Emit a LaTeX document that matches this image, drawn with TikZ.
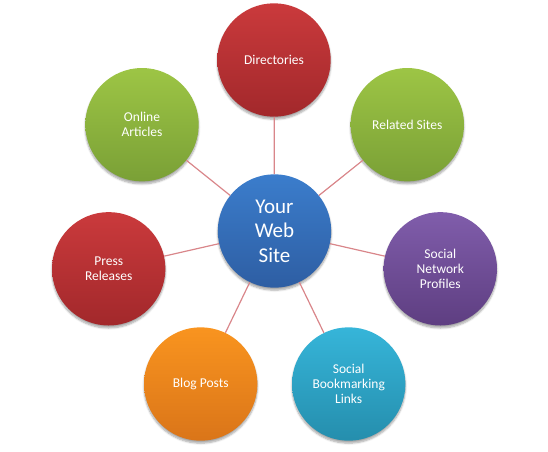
\documentclass[tikz,border=0pt]{standalone}
\usepackage{fontspec}
\setmainfont{Carlito}
\usetikzlibrary{shadows.blur}
\definecolor{redtop}{HTML}{CA3A3C}
\definecolor{redbot}{HTML}{A2282B}
\definecolor{greentop}{HTML}{9DC545}
\definecolor{greenbot}{HTML}{7AA036}
\definecolor{bluetop}{HTML}{3B7DCC}
\definecolor{bluebot}{HTML}{2E5EA3}
\definecolor{purpletop}{HTML}{805DAB}
\definecolor{purplebot}{HTML}{5E3E81}
\definecolor{orangetop}{HTML}{F9941F}
\definecolor{orangebot}{HTML}{DA7519}
\definecolor{tealtop}{HTML}{36B5D9}
\definecolor{tealbot}{HTML}{258EAD}
\definecolor{linkred}{HTML}{D9868A}
\tikzstyle{bubble}=[circle, minimum size=113.4pt, inner sep=0pt, align=center, text=white,
    font=\fontsize{13.5}{15}\selectfont,
    blur shadow={shadow xshift=0pt, shadow yshift=-2.5pt, shadow blur steps=6, shadow opacity=35}]
\tikzstyle{redball}=[bubble, top color=redtop, bottom color=redbot]
\tikzstyle{greenball}=[bubble, top color=greentop, bottom color=greenbot]
\tikzstyle{blueball}=[bubble, top color=bluetop, bottom color=bluebot]
\tikzstyle{purpleball}=[bubble, top color=purpletop, bottom color=purplebot]
\tikzstyle{orangeball}=[bubble, top color=orangetop, bottom color=orangebot]
\tikzstyle{tealball}=[bubble, top color=tealtop, bottom color=tealbot]
\tikzstyle{link}=[draw=linkred, line width=1.2pt]

\begin{document}
\begin{tikzpicture}[x=1pt, y=-1pt]
    \useasboundingbox (0,0) rectangle (548,451);
% Hub
    \node[blueball, font=\fontsize{21}{24.5}\selectfont] (site) at (274.5,231) {Your\\Web\\Site};
% Spokes
    \node[redball] (dir) at (274,60) {Directories};
    \node[greenball] (related) at (407.3,124.7) {Related Sites};
    \node[purpleball] (social) at (440.3,268.8) {Social\\Network\\Profiles};
    \node[tealball] (bookmark) at (348.7,384) {Social\\Bookmarking\\Links};
    \node[orangeball] (blog) at (200.7,384) {Blog Posts};
    \node[redball] (press) at (108.7,268.8) {Press\\Releases};
    \node[greenball] (articles) at (142,124.7) {Online\\Articles};
% Links
    \draw[link] (site) -- (dir);
    \draw[link] (site) -- (related);
    \draw[link] (site) -- (social);
    \draw[link] (site) -- (bookmark);
    \draw[link] (site) -- (blog);
    \draw[link] (site) -- (press);
    \draw[link] (site) -- (articles);
\end{tikzpicture}
\end{document}
